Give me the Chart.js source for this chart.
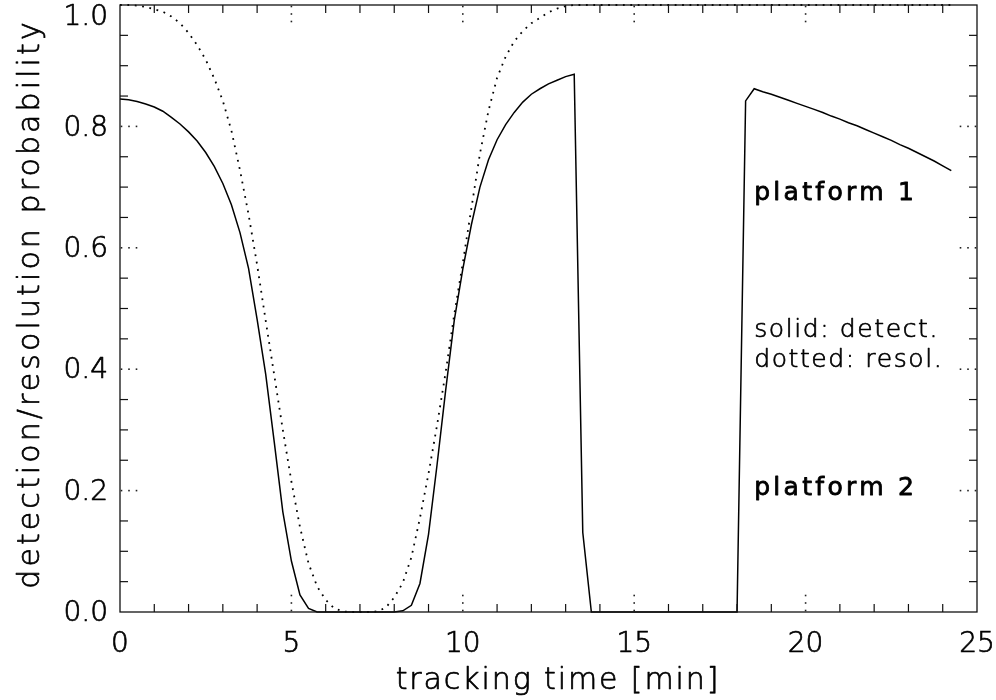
<!DOCTYPE html>
<html>
<head>
<meta charset="utf-8">
<script src="https://cdn.jsdelivr.net/npm/chart.js@4.4.1/dist/chart.umd.min.js"></script>
<style>
html,body{margin:0;padding:0;background:#ffffff;}
#wrap{position:relative;width:996px;height:700px;}
</style>
</head>
<body>
<div id="wrap"><canvas id="chart" width="996" height="700"></canvas></div>
<script>
// ---------------- data ----------------
const trackingTime = [0,0.25,0.5,0.75,1,1.25,1.5,1.75,2,2.25,2.5,2.75,3,3.25,3.5,3.75,4,4.25,4.5,4.75,
  5,5.25,5.5,5.75,6,6.25,6.5,6.75,7,7.25,7.5,7.75,8,8.25,8.5,8.75,9,9.25,9.5,9.75,
  10,10.25,10.5,10.75,11,11.25,11.5,11.75,12,12.25,12.5,12.75,13,13.25,13.5,13.75,14,14.25,14.5,14.75,
  15,15.25,15.5,15.75,16,16.25,16.5,16.75,17,17.25,17.5,17.75,18,18.25,18.5,18.75,19,19.25,19.5,19.75,
  20,20.25,20.5,20.75,21,21.25,21.5,21.75,22,22.25,22.5,22.75,23,23.25,23.5,23.75,24,24.25];

const detectionProb = [
  0.845,0.844,0.841,0.837, 0.832,0.825,0.815,0.804, 0.791,0.776,0.757,0.734, 0.706,0.671,0.625,0.566,
  0.482,0.392,0.280,0.165, 0.084,0.028,0.006,0.000, 0,0,0,0, 0,0,0,0,
  0.000,0.002,0.011,0.047, 0.128,0.243,0.365,0.480, 0.565,0.638,0.700,0.745, 0.778,0.803,0.823,0.840,
  0.853,0.862,0.870,0.876, 0.882,0.886,0.131,0.000, 0,0,0,0, 0,0,0,0, 0,0,0,0, 0,0,0,0,
  0.000,0.842,0.862,0.857, 0.853,0.848,0.843,0.838, 0.833,0.828,0.823,0.817, 0.812,0.806,0.801,0.795,
  0.789,0.783,0.777,0.770, 0.764,0.757,0.750,0.743, 0.735,0.727];

const resolutionProb = [
  1.000,1.000,0.999,0.997, 0.993,0.989,0.981,0.970, 0.954,0.934,0.910,0.879, 0.842,0.793,0.728,0.655,
  0.572,0.480,0.390,0.300, 0.215,0.140,0.080,0.042, 0.020,0.006,0.001,0.000, 0.000,0.000,0.001,0.007,
  0.024,0.048,0.090,0.155, 0.228,0.308,0.395,0.490, 0.575,0.665,0.755,0.826, 0.880,0.915,0.940,0.957,
  0.970,0.979,0.988,0.994, 0.998,1,1,1, 1,1,1,1, 1,1,1,1, 1,1,1,1, 1,1,1,1,
  1,1,1,1, 1,1,1,1, 1,1,1,1, 1,1,1,1, 1,1,1,1, 1,1,1,1, 1,1];

const xTickValues = [0,5,10,15,20,25];
const xTickLabels = ['0','5','10','15','20','25'];
const yTickValues = [0,0.2,0.4,0.6,0.8,1.0];
const yTickLabels = ['0.0','0.2','0.4','0.6','0.8','1.0'];
const xAxisTitle = 'tracking time [min]';
const yAxisTitle = 'detection/resolution probability';
const noteTexts = ['platform 1','solid: detect.','dotted: resol.','platform 2'];

// ---------------- layout / style ----------------
const FAM = '"DejaVu Sans", "Liberation Sans", sans-serif';
const THIN = 200;
const notePlacement = [
  {x:18.5, y:0.678, heavy:true},
  {x:18.5, y:0.453, heavy:false},
  {x:18.5, y:0.404, heavy:false},
  {x:18.5, y:0.193, heavy:true}
];

const decoPlugin = {
  id: 'deco',
  afterDatasetsDraw(chart) {
    const {ctx, chartArea: a, scales} = chart;
    const xs = scales.x, ys = scales.y;
    ctx.save();
    ctx.strokeStyle = '#111';
    ctx.fillStyle = '#222';
    ctx.lineWidth = 1.3;
    ctx.strokeRect(a.left, a.top, a.right - a.left, a.bottom - a.top);
    const seg = (x1,y1,x2,y2)=>{ctx.beginPath();ctx.moveTo(x1,y1);ctx.lineTo(x2,y2);ctx.stroke();};
    const dots = (x,y,dx,dy)=>{ for (const o of [1.5, 9, 16.5]) ctx.fillRect(x+dx*o-0.8, y+dy*o-0.8, 1.6, 1.6); };
    ctx.lineWidth = 1.2;
    for (let k = 1; k < 25; k++) {
      const px = xs.getPixelForValue(k);
      if (k % 5 === 0) { dots(px, a.bottom, 0, -1); dots(px, a.top, 0, 1); }
      else { seg(px, a.bottom, px, a.bottom - 8); seg(px, a.top, px, a.top + 8); }
    }
    for (let k = 1; k < 20; k++) {
      const py = ys.getPixelForValue(k * 0.05);
      if (k % 4 === 0) { dots(a.left, py, 1, 0); dots(a.right, py, -1, 0); }
      else { seg(a.left, py, a.left + 8, py); seg(a.right, py, a.right - 8, py); }
    }
    const txt = (s, x, y, sw) => { ctx.lineWidth = sw; ctx.strokeText(s, x, y); ctx.fillText(s, x, y); };
    // y tick labels
    ctx.fillStyle = '#000';
    ctx.strokeStyle = '#000';
    ctx.lineJoin = 'round';
    ctx.font = `${THIN} 28px ${FAM}`;
    ctx.textAlign = 'right';
    ctx.textBaseline = 'middle';
    yTickValues.forEach((v, i) => {
      const py = Math.max(ys.getPixelForValue(v) + 2, 18);
      txt(yTickLabels[i], a.left - 12, py, 0.7);
    });
    // axis titles
    ctx.letterSpacing = '1.9px';
    ctx.font = `${THIN} 30px ${FAM}`;
    ctx.textAlign = 'center';
    txt(xAxisTitle, 558, 681, 0.7);
    ctx.save();
    ctx.translate(31, 304);
    ctx.rotate(-Math.PI / 2);
    ctx.letterSpacing = '3.1px';
    txt(yAxisTitle, 0, 0, 0.7);
    ctx.restore();
    // notes
    ctx.textAlign = 'left';
    ctx.textBaseline = 'alphabetic';
    noteTexts.forEach((t, i) => {
      const p = notePlacement[i];
      const px = xs.getPixelForValue(p.x), py = ys.getPixelForValue(p.y);
      if (p.heavy) { ctx.font = `normal 25px ${FAM}`; ctx.letterSpacing = '3.3px'; txt(t, px, py, 0.8); }
      else { ctx.font = `${THIN} 25px ${FAM}`; ctx.letterSpacing = '1.6px'; txt(t, px, py, 0.7); }
    });
    ctx.restore();
  }
};

new Chart(document.getElementById('chart'), {
  type: 'line',
  data: {
    datasets: [
      { label: 'detect.', data: trackingTime.map((t, i) => ({x: t, y: detectionProb[i]})),
        borderColor: '#000', borderWidth: 1.5, pointRadius: 0, tension: 0, fill: false, clip: 4 },
      { label: 'resol.', data: trackingTime.map((t, i) => ({x: t, y: resolutionProb[i]})),
        borderColor: '#000', borderWidth: 1.8, borderDash: [1.8, 5.6], pointRadius: 0, tension: 0, fill: false, clip: 4 }
    ]
  },
  options: {
    responsive: false,
    animation: false,
    devicePixelRatio: 1,
    events: [],
    layout: {padding: {top: 5, right: 19, bottom: 0, left: 0}},
    plugins: {legend: {display: false}, tooltip: {enabled: false}},
    scales: {
      x: {
        type: 'linear', min: 0, max: 25,
        afterBuildTicks: s => { s.ticks = xTickValues.map(v => ({value: v})); },
        ticks: {font: {family: FAM, size: 28, weight: THIN}, color: '#000', padding: 8, maxRotation: 0, autoSkip: false,
          textStrokeColor: '#000', textStrokeWidth: 0.7,
          callback: (v) => xTickLabels[xTickValues.indexOf(v)]},
        grid: {display: false}, border: {display: false},
        afterFit: s => { s.height = 88; s.paddingLeft = 0; s.paddingRight = 0; }
      },
      y: {
        type: 'linear', min: 0, max: 1,
        ticks: {display: false},
        grid: {display: false}, border: {display: false},
        afterFit: s => { s.width = 120; s.paddingTop = 0; s.paddingBottom = 0; }
      }
    }
  },
  plugins: [decoPlugin]
});
</script>
</body>
</html>
